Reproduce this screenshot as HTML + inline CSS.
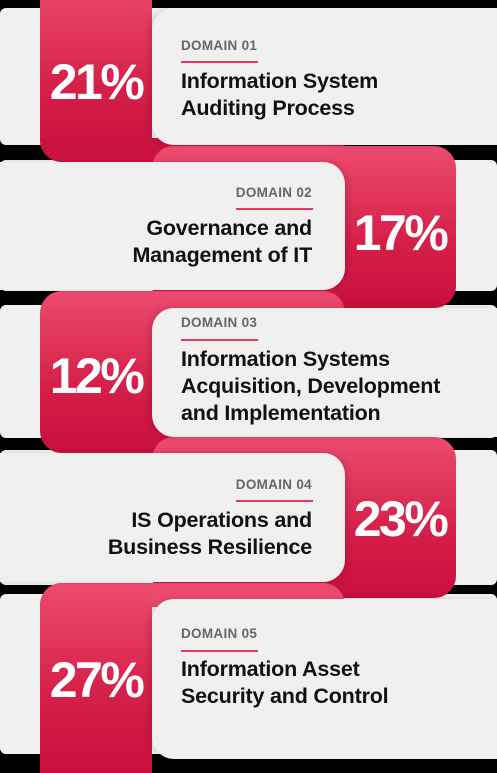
<!DOCTYPE html>
<html><head><meta charset="utf-8"><style>
*{margin:0;padding:0;box-sizing:border-box}
body{width:497px;height:746px;background:#000;position:relative;overflow:hidden;font-family:"Liberation Sans",sans-serif}
.row{position:absolute;left:0;width:497px;background:#f0f0f0;border-radius:6px}
.red{position:absolute;border-radius:22px;background:linear-gradient(180deg,#ec4b6e 0%,#d41f48 60%,#c80f3c 100%)}
.card{position:absolute;background:#f0f0f0}
.cl{border-radius:22px 0 0 22px;box-shadow:-3px 0 6px rgba(0,0,0,.12)}
.cr{border-radius:0 22px 22px 0;box-shadow:3px 0 6px rgba(0,0,0,.12)}
.pct{position:absolute;color:#fff;font-weight:bold;font-size:50px;letter-spacing:-2.5px;width:112px;text-align:center;line-height:50px}
.dom{position:absolute;font-size:13.5px;font-weight:bold;color:#666;letter-spacing:.3px;line-height:16px}
.line{position:absolute;height:2px;width:77px;background:#e33a5e}
.tt{position:absolute;font-size:21.5px;font-weight:bold;color:#111;line-height:27px;white-space:nowrap;letter-spacing:-.2px}
.l{left:181px}.r{right:185px;text-align:right}
</style></head><body>
<div class="row" style="top:8px;height:137px"></div>
<div class="row" style="top:160px;height:131px"></div>
<div class="row" style="top:305px;height:133px"></div>
<div class="row" style="top:450px;height:135px"></div>
<div class="row" style="top:594px;height:160px"></div>

<div class="red" style="left:40px;top:-20px;width:112px;height:182px;border-radius:0 0 22px 22px"></div>
<div class="red" style="left:40px;top:138px;width:305px;height:24px;border-radius:0 0 22px 22px;background:#ca123e"></div>
<div class="red" style="left:152px;top:146px;width:304px;height:162px"></div>
<div class="red" style="left:40px;top:291px;width:305px;height:162px"></div>
<div class="red" style="left:152px;top:437px;width:304px;height:161px"></div>
<div class="red" style="left:40px;top:583px;width:305px;height:24px;border-radius:22px 22px 0 0;background:#eb496c"></div>
<div class="red" style="left:40px;top:583px;width:112px;height:190px;border-radius:22px 22px 0 0"></div>

<div class="card cl" style="left:152px;top:8px;width:345px;height:137px"></div>
<div class="card cr" style="left:0;top:162px;width:345px;height:128px"></div>
<div class="card cl" style="left:152px;top:308px;width:345px;height:129px"></div>
<div class="card cr" style="left:0;top:453px;width:345px;height:129px"></div>
<div class="card cl" style="left:152px;top:599px;width:345px;height:160px"></div>

<div class="pct" style="left:40px;top:57px">21%</div>
<div class="pct" style="left:344px;top:208px">17%</div>
<div class="pct" style="left:40px;top:351px">12%</div>
<div class="pct" style="left:344px;top:494px">23%</div>
<div class="pct" style="left:40px;top:655px">27%</div>

<div class="dom l" style="top:38px">DOMAIN 01</div>
<div class="line" style="left:181px;top:61px"></div>
<div class="tt l" style="top:68px">Information System<br>Auditing Process</div>

<div class="dom r" style="top:185px">DOMAIN 02</div>
<div class="line" style="left:236px;top:208px"></div>
<div class="tt r" style="top:215px">Governance and<br>Management of IT</div>

<div class="dom l" style="top:315px">DOMAIN 03</div>
<div class="line" style="left:181px;top:339px"></div>
<div class="tt l" style="top:346px">Information Systems<br>Acquisition, Development<br>and Implementation</div>

<div class="dom r" style="top:477px">DOMAIN 04</div>
<div class="line" style="left:236px;top:500px"></div>
<div class="tt r" style="top:507px">IS Operations and<br>Business Resilience</div>

<div class="dom l" style="top:626px">DOMAIN 05</div>
<div class="line" style="left:181px;top:650px"></div>
<div class="tt l" style="top:656px">Information Asset<br>Security and Control</div>
</body></html>
